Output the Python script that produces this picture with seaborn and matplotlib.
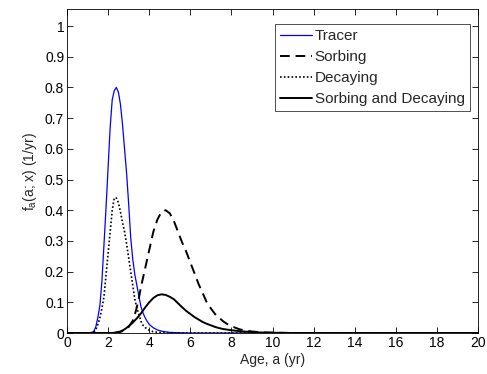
import numpy as np
import pandas as pd
import matplotlib
matplotlib.use("Agg")
import matplotlib.pyplot as plt
import seaborn as sns

# ---- data ----
tracer_x = [0, 1.0, 1.2, 1.3, 1.4, 1.5, 1.6, 1.7, 1.8, 1.9, 2.0, 2.1, 2.2, 2.3, 2.4, 2.5,
            2.6, 2.7, 2.8, 2.9, 3.0, 3.1, 3.2, 3.3, 3.4, 3.5, 3.6, 3.7, 3.8, 3.9, 4.0,
            4.2, 4.4, 4.6, 4.8, 5.0, 5.5, 6.0, 20]
tracer_y = [0, 0, 0.002, 0.005, 0.02, 0.05, 0.09, 0.17, 0.29, 0.41, 0.54, 0.67, 0.76, 0.79, 0.80, 0.785,
            0.745, 0.68, 0.60, 0.52, 0.42, 0.31, 0.24, 0.19, 0.155, 0.12, 0.085, 0.065, 0.05, 0.038, 0.028,
            0.017, 0.01, 0.006, 0.004, 0.002, 0.001, 0, 0]

sorb_x = [0, 2.3, 2.5, 2.7, 2.9, 3.0, 3.1, 3.2, 3.3, 3.4, 3.5, 3.6, 3.7, 3.8, 3.9, 4.0, 4.2, 4.4,
          4.6, 4.8, 5.0, 5.2, 5.4, 5.6, 5.8, 6.0, 6.2, 6.4, 6.6, 6.8, 7.0, 7.2, 7.4, 7.6, 7.8,
          8.0, 8.2, 8.4, 8.6, 8.8, 9.0, 9.5, 10, 11, 20]
sorb_y = [0, 0, 0.002, 0.006, 0.014, 0.02, 0.03, 0.04, 0.06, 0.085, 0.115, 0.15, 0.18, 0.21, 0.24, 0.27, 0.33, 0.37,
          0.395, 0.40, 0.39, 0.365, 0.33, 0.295, 0.265, 0.23, 0.195, 0.16, 0.13, 0.10, 0.08, 0.062, 0.05, 0.038, 0.029,
          0.022, 0.017, 0.012, 0.009, 0.007, 0.005, 0.002, 0.001, 0, 0]

decay_x = [0, 1.1, 1.3, 1.4, 1.5, 1.6, 1.7, 1.8, 1.9, 2.0, 2.1, 2.2, 2.3, 2.4, 2.5, 2.6, 2.7,
           2.8, 2.9, 3.0, 3.1, 3.2, 3.3, 3.4, 3.5, 3.6, 3.7, 3.8, 4.0, 4.2, 4.5, 5.0, 20]
decay_y = [0, 0, 0.003, 0.01, 0.028, 0.05, 0.08, 0.12, 0.19, 0.26, 0.33, 0.40, 0.44, 0.44, 0.425, 0.395, 0.36,
           0.33, 0.29, 0.245, 0.20, 0.155, 0.11, 0.08, 0.06, 0.038, 0.025, 0.018, 0.009, 0.004, 0.002, 0, 0]

both_x = [0, 2.2, 2.4, 2.6, 2.8, 3.0, 3.2, 3.4, 3.6, 3.8, 4.0, 4.2, 4.4, 4.6, 4.8, 5.0, 5.2, 5.4,
          5.6, 5.8, 6.0, 6.2, 6.4, 6.6, 6.8, 7.0, 7.2, 7.4, 7.6, 7.8, 8.0, 8.4, 8.8, 9.2, 10, 11, 20]
both_y = [0, 0, 0.002, 0.005, 0.012, 0.022, 0.034, 0.048, 0.064, 0.083, 0.10, 0.114, 0.123, 0.126, 0.124, 0.118, 0.11, 0.097,
          0.084, 0.072, 0.062, 0.052, 0.044, 0.036, 0.030, 0.025, 0.020, 0.016, 0.013, 0.011, 0.009, 0.006, 0.004, 0.002, 0.001, 0, 0]

labels = ["Tracer", "Sorbing", "Decaying", "Sorbing and Decaying"]
x_ticks = list(range(0, 21, 2))
y_ticks = [0, 0.1, 0.2, 0.3, 0.4, 0.5, 0.6, 0.7, 0.8, 0.9, 1]

# ---- style ----
sns.set_style("ticks")
plt.rcParams["font.family"] = ["Liberation Sans", "DejaVu Sans"]
plt.rcParams["xtick.direction"] = "in"
plt.rcParams["ytick.direction"] = "in"
plt.rcParams["axes.edgecolor"] = "black"
plt.rcParams["axes.linewidth"] = 0.6

fig = plt.figure(figsize=(4.87, 3.74), dpi=100)
ax = fig.add_axes([0.1376, 0.1096, 0.844, 0.865])

sns.lineplot(x=tracer_x, y=tracer_y, ax=ax, color="#0000ff", linewidth=0.9,
             label=labels[0], estimator=None, sort=False)
sns.lineplot(x=sorb_x, y=sorb_y, ax=ax, color="black", linewidth=1.4, linestyle=(0, (5, 3)),
             label=labels[1], estimator=None, sort=False)
sns.lineplot(x=decay_x, y=decay_y, ax=ax, color="black", linewidth=1.2, linestyle=(0, (1, 1.3)),
             label=labels[2], estimator=None, sort=False)
sns.lineplot(x=both_x, y=both_y, ax=ax, color="black", linewidth=1.4,
             label=labels[3], estimator=None, sort=False)

ax.set_xlim(0, 20)
ax.set_ylim(0, 1.054)
ax.set_xticks(x_ticks)
ax.set_xticklabels([str(v) for v in x_ticks])
ax.set_yticks(y_ticks)
ax.set_yticklabels(["0", "0.1", "0.2", "0.3", "0.4", "0.5", "0.6", "0.7", "0.8", "0.9", "1"])
ax.tick_params(axis="both", labelsize=10, length=4, width=0.6, top=True, right=True,
               colors="black", pad=2)
for s in ax.spines.values():
    s.set_visible(True)
    s.set_color("black")
    s.set_linewidth(0.6)

ax.set_xlabel("Age, a (yr)", fontsize=10, labelpad=2)
ax.set_ylabel(r"f$_\mathregular{a}$(a; x) (1/yr)", fontsize=10, labelpad=4)

leg = ax.legend(loc="upper right", bbox_to_anchor=(0.9805, 0.955), borderaxespad=0,
                fontsize=11, frameon=True, fancybox=False,
                handlelength=2.1, handletextpad=0.15,
                labelspacing=0.45, borderpad=0.35)
leg.get_frame().set_edgecolor("black")
leg.get_frame().set_linewidth(0.6)

fig.savefig("out.png", dpi=100, facecolor="white")
